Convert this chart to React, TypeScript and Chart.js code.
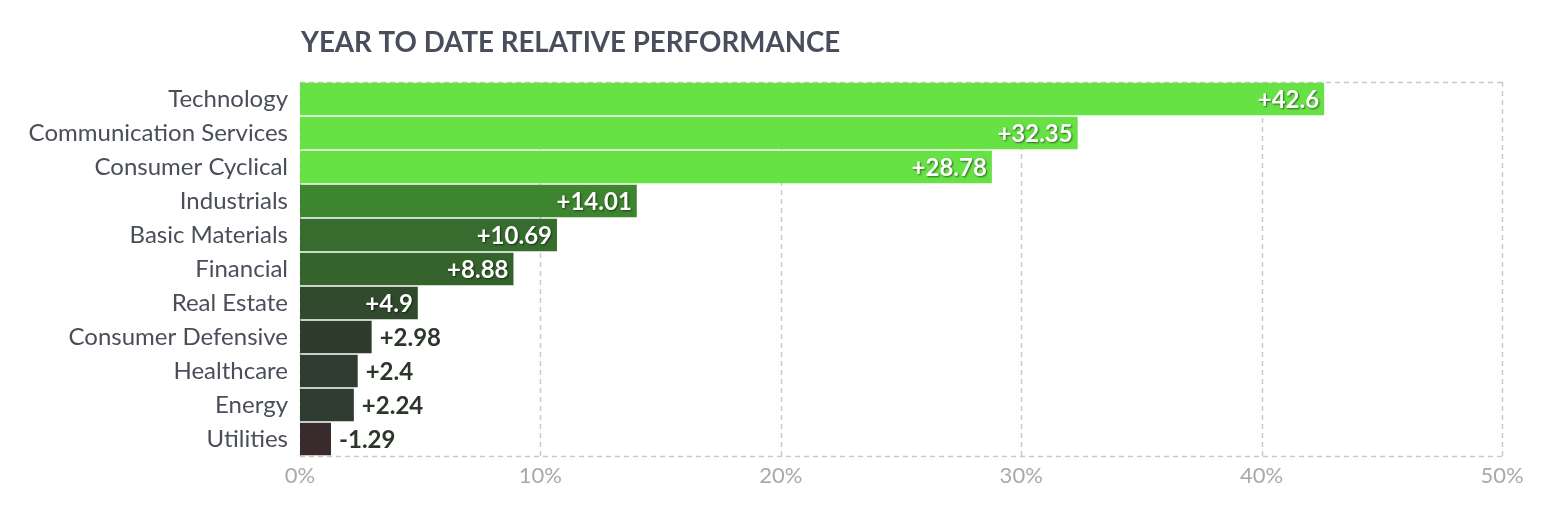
import React, { useEffect, useRef } from "react";
import { Chart, registerables } from "chart.js";

Chart.register(...registerables);

const categories = [
  "Technology",
  "Communication Services",
  "Consumer Cyclical",
  "Industrials",
  "Basic Materials",
  "Financial",
  "Real Estate",
  "Consumer Defensive",
  "Healthcare",
  "Energy",
  "Utilities",
];
const values = [42.6, 32.35, 28.78, 14.01, 10.69, 8.88, 4.9, 2.98, 2.4, 2.24, -1.29];
const barColors = [
  "#66e245",
  "#66e245",
  "#66e245",
  "#3e852f",
  "#386c2e",
  "#35632c",
  "#314a2d",
  "#2e3b2d",
  "#2f3c2f",
  "#2f3d30",
  "#392b2b",
];
const xTicks = [0, 10, 20, 30, 40, 50];
const titleText = "YEAR TO DATE RELATIVE PERFORMANCE";

const FONT = "Lato, 'Open Sans', sans-serif";
const GRID_COLOR = "#c9c9c9";

const gridPlugin = {
  id: "dashedGrid",
  beforeDatasetsDraw(chart: any) {
    const { ctx, chartArea, scales } = chart;
    const x = scales.x;
    ctx.save();
    ctx.strokeStyle = GRID_COLOR;
    ctx.lineWidth = 1.5;
    ctx.setLineDash([5, 4]);
    xTicks.forEach((t) => {
      const px = Math.round(x.getPixelForValue(t)) + 0.5;
      ctx.beginPath();
      ctx.moveTo(px, chartArea.top);
      ctx.lineTo(px, chartArea.bottom);
      ctx.stroke();
    });
    [chartArea.top, chartArea.bottom].forEach((py: number) => {
      const y = Math.round(py) + 0.5;
      ctx.beginPath();
      ctx.moveTo(chartArea.left, y);
      ctx.lineTo(chartArea.right, y);
      ctx.stroke();
    });
    ctx.restore();
  },
};

const titlePlugin = {
  id: "leftTitle",
  afterDraw(chart: any) {
    const { ctx, chartArea } = chart;
    ctx.save();
    ctx.font = `bold 27.7px ${FONT}`;
    ctx.fillStyle = "#4a4e5c";
    ctx.textAlign = "left";
    ctx.textBaseline = "middle";
    ctx.fillText(titleText, chartArea.left + 1, 43);
    ctx.restore();
  },
};

const valueLabelPlugin = {
  id: "valueLabels",
  afterDatasetsDraw(chart: any) {
    const { ctx } = chart;
    const meta = chart.getDatasetMeta(0);
    ctx.save();
    ctx.font = `bold 24px ${FONT}`;
    ctx.textBaseline = "middle";
    meta.data.forEach((bar: any, i: number) => {
      const { x, y, base } = bar.getProps(["x", "y", "base"], true);
      const v = values[i];
      const text = (v > 0 ? "+" : "") + String(v);
      const w = ctx.measureText(text).width;
      const barW = Math.abs(x - base);
      if (barW > w + 16) {
        ctx.textAlign = "right";
        ctx.fillStyle = "#ffffff";
        ctx.shadowColor = "rgba(0,0,0,0.55)";
        ctx.shadowBlur = 2;
        ctx.shadowOffsetX = 1;
        ctx.shadowOffsetY = 1;
        ctx.fillText(text, x - 5, y + 1);
      } else {
        ctx.textAlign = "left";
        ctx.fillStyle = "#2c362b";
        ctx.shadowColor = "transparent";
        ctx.shadowBlur = 0;
        ctx.shadowOffsetX = 0;
        ctx.shadowOffsetY = 0;
        ctx.fillText(text, x + 8, y + 1);
      }
    });
    ctx.restore();
  },
};

export default function App() {
  const canvasRef = useRef<HTMLCanvasElement | null>(null);

  useEffect(() => {
    const canvas = canvasRef.current;
    if (!canvas) return;
    const chart = new Chart(canvas, {
      type: "bar",
      data: {
        labels: categories,
        datasets: [
          {
            data: values.map((v) => Math.abs(v)),
            backgroundColor: barColors,
            borderWidth: 0,
            barPercentage: 0.95,
            categoryPercentage: 1,
          },
        ],
      },
      options: {
        indexAxis: "y",
        responsive: false,
        animation: false,
        devicePixelRatio: 1,
        layout: { padding: { top: 82, right: 44, left: 0, bottom: 0 } },
        plugins: {
          legend: { display: false },
          title: { display: false },
          tooltip: { enabled: false },
        },
        scales: {
          x: {
            type: "linear",
            min: 0,
            max: 50,
            afterFit: (axis: any) => {
              axis.height = 60;
            },
            afterBuildTicks: (axis: any) => {
              axis.ticks = xTicks.map((v) => ({ value: v }));
            },
            ticks: {
              callback: (v: any) => `${v}%`,
              color: "#a9a9a9",
              font: { family: FONT, size: 22 },
              padding: 7,
              maxRotation: 0,
            },
            grid: { display: false, drawTicks: false },
            border: { display: false },
          },
          y: {
            type: "category",
            afterFit: (axis: any) => {
              axis.width = 300;
            },
            ticks: {
              color: "#4a4e5a",
              font: { family: FONT, size: 24 },
              padding: 12,
            },
            grid: { display: false, drawTicks: false },
            border: { display: false },
          },
        },
      },
      plugins: [gridPlugin, titlePlugin, valueLabelPlugin],
    });
    return () => chart.destroy();
  }, []);

  return (
    <div style={{ position: "fixed", left: 0, top: 0, width: 1546, height: 516, background: "#fff" }}>
      <canvas ref={canvasRef} width={1546} height={516} style={{ display: "block" }} />
    </div>
  );
}
